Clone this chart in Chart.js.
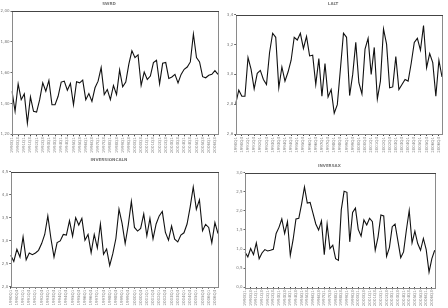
<!DOCTYPE html>
<html><head><meta charset="utf-8">
<script src="https://cdn.jsdelivr.net/npm/chart.js@4"></script>
<style>
html,body{margin:0;padding:0;background:#fff;width:448px;height:308px;overflow:hidden}
.p{position:absolute;width:224px;height:154px}
</style></head><body>
<div class="p" style="left:0;top:0"><canvas id="c1" width="224" height="154"></canvas></div>
<div class="p" style="left:224px;top:0"><canvas id="c2" width="224" height="154"></canvas></div>
<div class="p" style="left:0;top:154px"><canvas id="c3" width="224" height="154"></canvas></div>
<div class="p" style="left:224px;top:154px"><canvas id="c4" width="224" height="154"></canvas></div>
<script>
const quarters = [
"1990Q1","1990Q2","1990Q3","1990Q4","1991Q1","1991Q2","1991Q3","1991Q4",
"1992Q1","1992Q2","1992Q3","1992Q4","1993Q1","1993Q2","1993Q3","1993Q4",
"1994Q1","1994Q2","1994Q3","1994Q4","1995Q1","1995Q2","1995Q3","1995Q4",
"1996Q1","1996Q2","1996Q3","1996Q4","1997Q1","1997Q2","1997Q3","1997Q4",
"1998Q1","1998Q2","1998Q3","1998Q4","1999Q1","1999Q2","1999Q3","1999Q4",
"2000Q1","2000Q2","2000Q3","2000Q4","2001Q1","2001Q2","2001Q3","2001Q4",
"2002Q1","2002Q2","2002Q3","2002Q4","2003Q1","2003Q2","2003Q3","2003Q4",
"2004Q1","2004Q2","2004Q3","2004Q4","2005Q1","2005Q2","2005Q3","2005Q4",
"2006Q1","2006Q2","2006Q3","2006Q4"];

const titles = ["SWRD", "LALT", "INVERSIONCALN", "INVERSAX"];

const series1 = [1.480,1.349,1.528,1.425,1.462,1.272,1.443,1.349,1.344,1.425,
1.534,1.480,1.550,1.392,1.392,1.447,1.539,1.545,1.486,1.530,
1.392,1.541,1.534,1.552,1.425,1.465,1.414,1.502,1.545,1.633,
1.458,1.491,1.425,1.517,1.458,1.618,1.508,1.539,1.655,1.742,
1.698,1.716,1.517,1.604,1.556,1.578,1.666,1.681,1.528,1.661,
1.666,1.563,1.572,1.589,1.534,1.589,1.622,1.637,1.670,1.851,
1.698,1.670,1.574,1.567,1.583,1.589,1.613,1.589];

const series2 = [2.803,2.894,2.853,2.853,3.113,3.034,2.903,3.007,3.027,2.966,
2.932,3.147,3.276,3.249,2.910,3.050,2.955,3.016,3.095,3.249,
3.231,3.276,3.174,3.255,3.124,3.129,2.932,3.106,2.853,3.072,
2.849,2.898,2.740,2.797,3.034,3.276,3.249,2.858,3.000,3.215,
2.944,2.869,3.170,3.242,3.000,3.181,2.835,2.955,3.305,3.203,
2.910,2.916,3.120,2.898,2.932,2.966,2.955,3.075,3.215,3.242,
3.163,3.328,3.045,3.140,3.079,2.853,3.095,2.984];

const series3 = [2.682,2.550,2.814,2.645,3.085,2.586,2.733,2.696,2.733,2.792,
2.938,3.136,3.540,3.048,2.645,2.960,2.997,3.136,3.122,3.437,
3.100,3.503,3.342,3.488,3.012,3.136,2.740,3.136,2.843,3.364,
2.704,2.821,2.462,2.718,3.048,3.686,3.378,2.938,3.342,3.855,
3.290,3.210,3.268,3.584,3.107,3.488,3.041,3.364,3.540,3.635,
3.180,3.012,3.320,3.034,2.975,3.122,3.173,3.364,3.730,4.170,
3.686,3.891,3.217,3.356,3.290,2.953,3.393,3.158];

const series4 = [0.924,0.792,1.012,0.854,1.162,0.748,0.898,0.986,0.950,0.968,
0.994,1.408,1.566,1.786,1.408,1.716,0.836,1.250,1.786,1.804,
2.182,2.622,2.200,2.218,1.936,1.654,1.496,1.734,0.854,1.654,
1.012,1.100,0.748,0.704,2.024,2.508,2.482,1.188,1.954,2.068,
1.514,1.338,1.760,1.628,1.804,1.716,0.968,1.320,1.892,1.866,
0.810,1.038,1.584,1.654,1.214,0.774,0.924,1.496,2.006,1.162,
1.470,1.144,0.968,1.276,0.986,0.396,0.748,0.968];

const yMin = [1.2, 2.6, 2.0, 0.0];
const yMax = [2.0, 3.4, 4.5, 3.0];
const yStep = [0.2, 0.2, 0.5, 0.5];
const yDecimals = [2, 1, 1, 1];

const layouts = [
  {left:12, right:6, xh:19.7, tTop:2, tBot:4.3},
  {left:11.7, right:6, xh:20, tTop:2, tBot:8},
  {left:10.7, right:6, xh:21.3, tTop:4, tBot:9},
  {left:21, right:13.3, xh:20.7, tTop:10, tBot:3.7}
];

const boxPlugin = {
  id:'box',
  afterDraw(chart){
    const a = chart.chartArea, ctx = chart.ctx;
    ctx.save();
    ctx.strokeStyle = '#8a8a8a';
    ctx.lineWidth = 1;
    ctx.strokeRect(Math.round(a.left)+0.5, Math.round(a.top)+0.5, Math.round(a.right-a.left), Math.round(a.bottom-a.top));
    ctx.beginPath();
    ctx.strokeStyle = '#444';
    ctx.moveTo(Math.round(a.left), Math.round(a.top)+0.5);
    ctx.lineTo(Math.round(a.right)+1, Math.round(a.top)+0.5);
    ctx.stroke();
    ctx.restore();
  }
};

const allSeries = [series1, series2, series3, series4];
allSeries.forEach((data, k) => {
  const L = layouts[k];
  new Chart(document.getElementById('c'+(k+1)), {
    type:'line',
    data:{labels:quarters, datasets:[{data:data, borderColor:'#111', borderWidth:1.1, pointRadius:0, tension:0, fill:false}]},
    options:{
      responsive:false, animation:false,
      layout:{padding:{left:0, right:L.right, top:0, bottom:0}},
      plugins:{
        legend:{display:false}, tooltip:{enabled:false},
        title:{display:true, text:titles[k], color:'#777', font:{family:'DejaVu Sans', size:4}, padding:{top:L.tTop, bottom:L.tBot}}
      },
      scales:{
        x:{
          offset:false,
          grid:{drawOnChartArea:false, drawTicks:true, tickLength:2, color:(c)=> c.index%2===0 ? '#444' : 'rgba(0,0,0,0)'},
          border:{display:false},
          ticks:{autoSkip:false, maxRotation:90, minRotation:90, padding:1, color:'#888',
            font:{family:'DejaVu Sans', size:4},
            callback:(v,i)=> i%2===0 ? quarters[i] : ''},
          afterFit:(s)=>{ s.height = L.xh; }
        },
        y:{
          min:yMin[k], max:yMax[k],
          grid:{drawOnChartArea:false, drawTicks:true, tickLength:1.5, color:'#666'},
          border:{display:false},
          ticks:{stepSize:yStep[k], padding:1, color:'#777', font:{family:'DejaVu Sans', size:4},
            callback:(v)=> Number(v).toFixed(yDecimals[k]).replace('.', ',')},
          afterFit:(s)=>{ s.width = L.left; }
        }
      }
    },
    plugins:[boxPlugin]
  });
});
</script>
</body></html>
